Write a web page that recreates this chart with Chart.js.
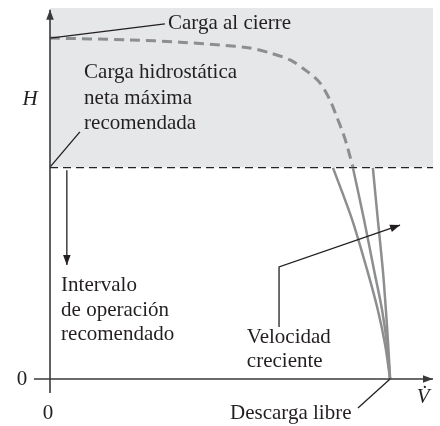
<!DOCTYPE html>
<html>
<head>
<meta charset="utf-8">
<script src="https://cdn.jsdelivr.net/npm/chart.js@4"></script>
<style>
  html, body { margin: 0; padding: 0; background: #fff; }
  canvas { display: block; }
</style>
</head>
<body>
<canvas id="chart" width="440" height="426"></canvas>
<script>
// Curva de la bomba: caudal (V̇) contra carga (H), unidades relativas 0..100.
const curveQ = [0, 20.9, 33.9, 44.4, 52.2, 57.4, 62.7, 67.4, 70.5, 73.1, 74.9, 76.5, 77.5, 79.1];
const curveH = [91.9, 91.4, 90.8, 90.0, 89.2, 87.9, 86.0, 82.7, 79.8, 75.2, 70.6, 66.3, 63.1, 57.1];

// Tramos de velocidad creciente por debajo del límite
const speedH  = [56.9, 42.9, 29.4, 18.6, 9.2, 0];
const speedQ1 = [73.9, 78.9, 82.8, 85.6, 87.5, 88.8];
const speedQ2 = [79.1, 82.0, 84.6, 86.7, 88.0, 88.8];
const speedQ3 = [84.3, 85.6, 86.9, 87.7, 88.3, 88.8];

const limitH = 57;        // carga hidrostática neta máxima recomendada
const qMax = 100, hMax = 100;

const INK = "#231f20";
const FONT = "21px 'Liberation Serif', 'Times New Roman', serif";

// textos (posición en unidades de datos: q, h)
const labels = [
  { text: "Carga al cierre",    q: 30.8, h: 95.7 },
  { text: "Carga hidrostática", q: 8.9,  h: 82.5 },
  { text: "neta máxima",        q: 8.9,  h: 75.7 },
  { text: "recomendada",        q: 8.9,  h: 69.0 },
  { text: "Intervalo",          q: 2.9,  h: 25.3 },
  { text: "de operación",       q: 2.9,  h: 18.6 },
  { text: "recomendado",        q: 2.9,  h: 11.9 },
  { text: "Velocidad",          q: 51.4, h: 11.1 },
  { text: "creciente",          q: 51.4, h: 4.6 },
  { text: "Descarga libre",     q: 47.0, h: -9.2 },
  { text: "0", q: -7.3, h: 0,    align: "center" },
  { text: "0", q: -0.5, h: -9.2, align: "center" },
  { text: "H", q: -5.2, h: 75.4, align: "center", italic: true },
  { text: "V\u0307", q: 97.4, h: -5.1, align: "center", italic: true },
];

// líneas guía: [q, h] ... , arrow = punta al final
const leaders = [
  { pts: [[0, 91.9], [30.0, 95.7]] },
  { pts: [[0, 57.1], [7.8, 66.6]] },
  { pts: [[80.4, -7.8], [88.8, 0]] },
  { pts: [[4.4, 56.3], [4.4, 30.7]], arrow: true },
  { pts: [[59.8, 14.0], [59.8, 30.2], [91.4, 41.5]], arrow: true },
  // ejes
  { pts: [[0, -3.8], [0, 99.5]], arrow: true, width: 1.6, color: "#3a3a3a" },
  { pts: [[-4.2, 0], [100, 0]], arrow: true, width: 1.6, color: "#3a3a3a" },
];

const toXY = (qs, hs) => qs.map((q, i) => ({ x: q, y: hs[i] }));

function arrowHead(ctx, x0, y0, x1, y1) {
  const a = Math.atan2(y1 - y0, x1 - x0), len = 10, w = 3.8;
  ctx.beginPath();
  ctx.moveTo(x1, y1);
  ctx.lineTo(x1 - len * Math.cos(a) + w * Math.sin(a), y1 - len * Math.sin(a) - w * Math.cos(a));
  ctx.lineTo(x1 - len * Math.cos(a) - w * Math.sin(a), y1 - len * Math.sin(a) + w * Math.cos(a));
  ctx.closePath();
  ctx.fill();
}

const annotate = {
  id: "annotate",
  afterDatasetsDraw(chart) {
    const { ctx, scales: { x, y } } = chart;
    ctx.save();
    for (const l of leaders) {
      const p = l.pts.map(([q, h]) => [x.getPixelForValue(q), y.getPixelForValue(h)]);
      ctx.strokeStyle = l.color || INK;
      ctx.fillStyle = l.color || INK;
      ctx.lineWidth = l.width || 1.3;
      ctx.beginPath();
      p.forEach(([px, py], i) => i ? ctx.lineTo(px, py) : ctx.moveTo(px, py));
      ctx.stroke();
      if (l.arrow) {
        const n = p.length;
        arrowHead(ctx, p[n - 2][0], p[n - 2][1], p[n - 1][0], p[n - 1][1]);
      }
    }
    ctx.fillStyle = INK;
    ctx.textBaseline = "middle";
    for (const t of labels) {
      ctx.font = (t.italic ? "italic " : "") + FONT;
      ctx.textAlign = t.align || "left";
      ctx.fillText(t.text, x.getPixelForValue(t.q), y.getPixelForValue(t.h));
    }
    ctx.restore();
  },
};

const line = { pointRadius: 0, fill: false, tension: 0.3 };

new Chart(document.getElementById("chart"), {
  type: "line",
  data: {
    datasets: [
      { ...line, data: toXY(curveQ, curveH), borderColor: "#8d8e90", borderWidth: 3,
        borderDash: [10, 6], borderCapStyle: "butt", order: 1 },
      { ...line, data: toXY(speedQ1, speedH), borderColor: "#8d8e90", borderWidth: 2.5, order: 1 },
      { ...line, data: toXY(speedQ2, speedH), borderColor: "#8d8e90", borderWidth: 2.5, order: 1 },
      { ...line, data: toXY(speedQ3, speedH), borderColor: "#8d8e90", borderWidth: 2.5, order: 1 },
      { pointRadius: 0, data: [{ x: 0, y: limitH }, { x: qMax, y: limitH }],
        borderColor: "#222", borderWidth: 1.3, borderDash: [8, 5],
        fill: "end", backgroundColor: "#e6e7e8", order: 2 },
    ],
  },
  options: {
    responsive: false,
    devicePixelRatio: 1,
    animation: false,
    events: [],
    layout: { padding: { left: 50, right: 7, top: 8, bottom: 47 } },
    scales: {
      x: { type: "linear", min: 0, max: qMax, display: false },
      y: { type: "linear", min: 0, max: hMax, display: false },
    },
    plugins: {
      legend: { display: false },
      tooltip: { enabled: false },
      filler: { drawTime: "beforeDatasetsDraw" },
    },
  },
  plugins: [annotate],
});
</script>
</body>
</html>
